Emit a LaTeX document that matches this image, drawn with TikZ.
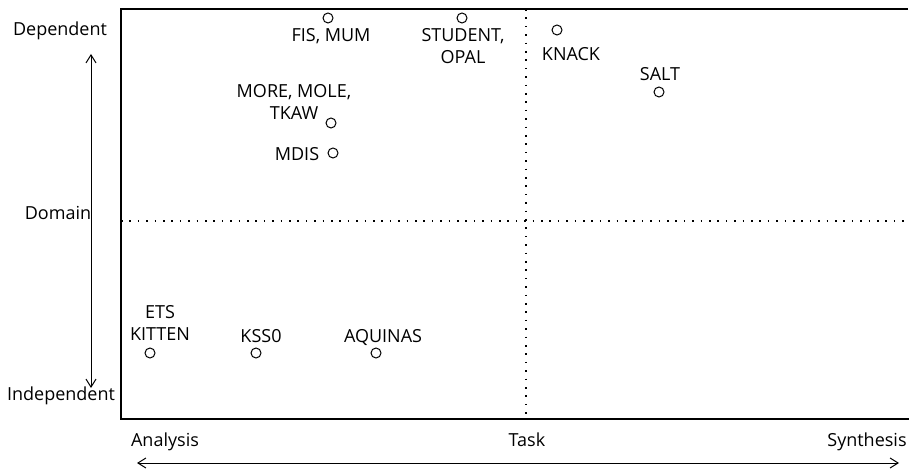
\documentclass[tikz,border=0pt]{standalone}
\usepackage{fontspec}
\setmainfont{Open Sans}
\usetikzlibrary{arrows.meta}

\begin{document}
\begin{tikzpicture}[x=0.5pt,y=-0.5pt,>={Straight Barb[length=4pt,width=5pt]},font=\fontsize{9}{11}\selectfont]

    \useasboundingbox (0,0) rectangle (909,470);

    \tikzset{
        sys/.style={circle,draw,line width=0.5pt,inner sep=0pt,minimum size=5pt},
        lbl/.style={inner sep=0pt,align=center,text height=6.5pt,text depth=1.8pt},
        guide/.style={line width=0.6pt,dash pattern=on 0.8pt off 3.4pt}
    }

    % Coins du cadre
    \coordinate (tl) at (121,9);
    \coordinate (bl) at (121,419);
    \coordinate (tr) at (908,9);
    \coordinate (br) at (909,419);

    % Cadre ouvert a droite
    \draw[line width=0.6pt] (tr) -- (tl) -- (bl) -- (br);

    % Lignes pointillees
    \coordinate (ml) at (121,221);
    \coordinate (mr) at (906,221);
    \coordinate (mt) at (526,9);
    \coordinate (mb) at (526,419);
    \draw[guide] (ml) -- (mr);
    \draw[guide] (mt) -- (mb);

    % Axes
    \coordinate (up) at (91,54);
    \coordinate (down) at (91,388);
    \draw[<->,line width=0.5pt] (up) -- (down);
    \coordinate (left) at (137,463);
    \coordinate (right) at (899,463);
    \draw[<->,line width=0.5pt] (left) -- (right);

    % Etiquettes des axes
    \node[lbl] (dep) at (60,31) {Dependent};
    \node[lbl] (dom) at (58,215) {Domain};
    \node[lbl] (ind) at (61,396) {Independent};
    \node[lbl] (ana) at (165,442) {Analysis};
    \node[lbl] (task) at (527,442) {Task};
    \node[lbl,anchor=east] (syn) at (907,442) {Synthesis};

    % Systemes
    \node[sys] (fis) at (328,18) {};
    \node[lbl] (fisl) at (331,37) {FIS, MUM};
    \node[sys] (stud) at (462,18) {};
    \node[lbl] (studl) at (463,59) {STUDENT,\\OPAL};
    \node[sys] (knack) at (557,30) {};
    \node[lbl] (knackl) at (571,56) {KNACK};
    \node[lbl] (saltl) at (660,76) {SALT};
    \node[sys] (salt) at (659,92) {};
    \node[lbl] (morel) at (294,115) {MORE, MOLE,\\TKAW};
    \node[sys] (more) at (331,123) {};
    \node[lbl] (mdisl) at (297,156) {MDIS};
    \node[sys] (mdis) at (333,153) {};
    \node[lbl] (etsl) at (160,336) {ETS\\KITTEN};
    \node[sys] (ets) at (150,353) {};
    \node[lbl] (kssl) at (261,338) {KSS0};
    \node[sys] (kss) at (256,353) {};
    \node[lbl] (aqul) at (383,338) {AQUINAS};
    \node[sys] (aqu) at (376,353) {};
\end{tikzpicture}
\end{document}
